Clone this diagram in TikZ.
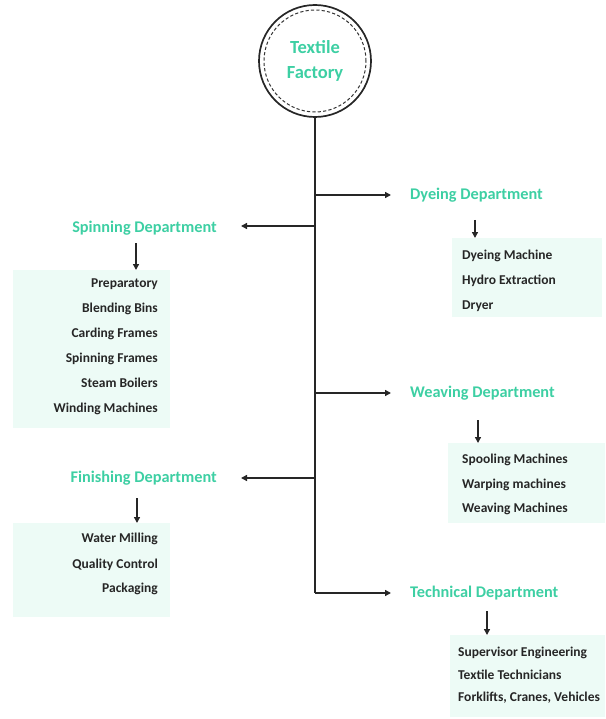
\documentclass[tikz,border=0pt]{standalone}
\usepackage{fontspec}
\setmainfont{Carlito}
\usetikzlibrary{arrows.meta}
\definecolor{tealtxt}{HTML}{3DCFA3}
\definecolor{mintbg}{HTML}{EDFBF6}
\definecolor{linecol}{HTML}{262626}
\begin{document}
\begin{tikzpicture}[x=1pt,y=-1pt,
  dept/.style={text=tealtxt, font=\fontsize{16.3}{19}\selectfont\bfseries, inner sep=0pt, anchor=base},
  itembox/.style={fill=mintbg, draw=none, inner sep=0pt, anchor=north west},
  itemR/.style={font=\fontsize{13.5}{16}\selectfont\bfseries, inner sep=0pt, anchor=base east, text=black!85},
  itemL/.style={font=\fontsize{13.5}{16}\selectfont\bfseries, inner sep=0pt, anchor=base west, text=black!85},
  trunk/.style={linecol, line width=1.4pt},
  conn/.style={linecol, line width=1.4pt, -{Triangle[length=6pt,width=6pt]}}]
\useasboundingbox (0,0) rectangle (605,719);

% central node
\node[circle, draw=black!85, line width=1.7pt, minimum size=112pt, inner sep=0pt,
      text=tealtxt, font=\fontsize{18.5}{25}\selectfont\bfseries, align=center] (factory) at (315,61) {Textile\\Factory};
\draw[black!80, line width=1pt, dash pattern=on 3.2pt off 2.2pt] (factory.center) circle (51pt);

% junctions on the trunk
\coordinate (jd) at (315,195);
\coordinate (js) at (315,226);
\coordinate (jw) at (315,393);
\coordinate (jf) at (315,478);
\coordinate (jt) at (315,593);
\draw[trunk] (factory.south) -- (jt);

% department labels
\node[dept, anchor=west] (dye) at (410,195) {Dyeing Department};
\node[dept, anchor=east] (spin) at (217,228) {Spinning Department};
\node[dept, anchor=west] (weave) at (410,393) {Weaving Department};
\node[dept, anchor=east] (fin) at (217,478) {Finishing Department};
\node[dept, anchor=west] (tech) at (410,593) {Technical Department};

% branch arrows
\draw[conn] (jd) -- ([xshift=-19pt]dye.west |- jd);
\draw[conn] (js) -- ([xshift=24pt]spin.east |- js);
\draw[conn] (jw) -- ([xshift=-19pt]weave.west |- jw);
\draw[conn] (jf) -- ([xshift=24pt]fin.east |- jf);
\draw[conn] (jt) -- ([xshift=-19pt]tech.west |- jt);

% item boxes
\node[itembox, minimum width=157pt, minimum height=158pt] (spinbox) at (13,270) {};
\node[itembox, minimum width=150pt, minimum height=79pt] (dyebox) at (452,238) {};
\node[itembox, minimum width=157pt, minimum height=80pt] (weavebox) at (448,443) {};
\node[itembox, minimum width=157pt, minimum height=94pt] (finbox) at (13,523) {};
\node[itembox, minimum width=155pt, minimum height=82pt] (techbox) at (450,635) {};

% down arrows
\coordinate (sa) at (136,243);
\coordinate (da) at (475,220);
\coordinate (wa) at (478,420);
\coordinate (fa) at (137,498);
\coordinate (ta) at (487,611);
\draw[conn] (sa) -- (sa |- spinbox.north);
\draw[conn] (da) -- (da |- dyebox.north);
\draw[conn] (wa) -- (wa |- weavebox.north);
\draw[conn] (fa) -- (fa |- finbox.north);
\draw[conn] (ta) -- (ta |- techbox.north);

% spinning items
\node[itemR] (s1) at (158,287.5) {Preparatory};
\node[itemR] (s2) at (158,312.5) {Blending Bins};
\node[itemR] (s3) at (158,337.5) {Carding Frames};
\node[itemR] (s4) at (158,362.5) {Spinning Frames};
\node[itemR] (s5) at (158,387.5) {Steam Boilers};
\node[itemR] (s6) at (158,412.5) {Winding Machines};

% finishing items
\node[itemR] (f1) at (158,542.5) {Water Milling};
\node[itemR] (f2) at (158,568) {Quality Control};
\node[itemR] (f3) at (158,592.5) {Packaging};

% dyeing items
\node[itemL] (d1) at (462,259.5) {Dyeing Machine};
\node[itemL] (d2) at (462,284.5) {Hydro Extraction};
\node[itemL] (d3) at (462,309.5) {Dryer};

% weaving items
\node[itemL] (w1) at (462,463.5) {Spooling Machines};
\node[itemL] (w2) at (462,488.5) {Warping machines};
\node[itemL] (w3) at (462,512.5) {Weaving Machines};

% technical items
\node[itemL] (t1) at (458,656.5) {Supervisor Engineering};
\node[itemL] (t2) at (458,679.5) {Textile Technicians};
\node[itemL] (t3) at (458,701.5) {Forklifts, Cranes, Vehicles};
\end{tikzpicture}
\end{document}
